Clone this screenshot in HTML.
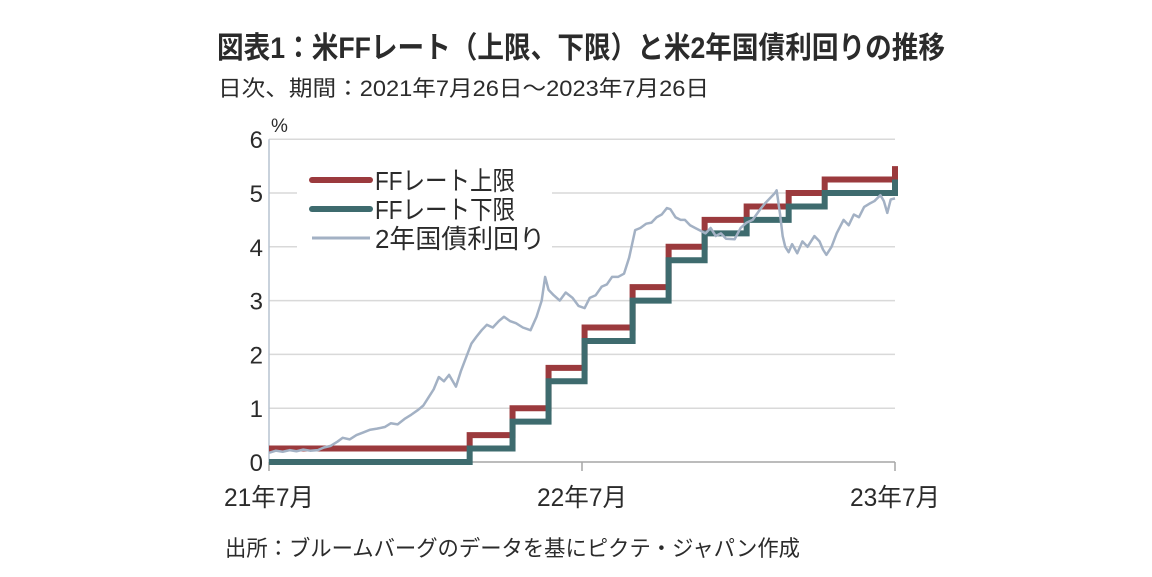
<!DOCTYPE html>
<html><head><meta charset="utf-8"><style>
html,body{margin:0;padding:0;background:#fff;width:1152px;height:577px;overflow:hidden}
svg{display:block}
text{font-family:"Liberation Sans","Noto Sans CJK JP",sans-serif;fill:#2b2b2b}
</style></head><body>
<svg id="chart" width="1152" height="577">
<text x="217" y="58" font-size="30" font-weight="bold" textLength="728" lengthAdjust="spacingAndGlyphs">図表1：米FFレート（上限、下限）と米2年国債利回りの推移</text>
<text x="218" y="96" font-size="22" textLength="491" lengthAdjust="spacingAndGlyphs">日次、期間：2021年7月26日～2023年7月26日</text>
<text x="271" y="132" font-size="19">%</text>
<text x="225" y="556" font-size="22" textLength="575" lengthAdjust="spacingAndGlyphs">出所：ブルームバーグのデータを基にピクテ・ジャパン作成</text>
<g id="grid"></g>
<g id="axes"></g>
<rect x="297" y="165" width="255" height="86" fill="#fff"/>
<g id="series"></g>
<g id="legend">
<line x1="312" y1="180" x2="370" y2="180" stroke="#9b3a3d" stroke-width="6" stroke-linecap="round"/>
<text x="375" y="190" font-size="26" textLength="140" lengthAdjust="spacingAndGlyphs">FFレート上限</text>
<line x1="312" y1="209" x2="370" y2="209" stroke="#3e6b6e" stroke-width="6" stroke-linecap="round"/>
<text x="375" y="219" font-size="26" textLength="140" lengthAdjust="spacingAndGlyphs">FFレート下限</text>
<line x1="312" y1="238" x2="370" y2="238" stroke="#a3b1c4" stroke-width="3"/>
<text x="375" y="248" font-size="26" textLength="170" lengthAdjust="spacingAndGlyphs">2年国債利回り</text>
</g>
</svg>
<script>
const yTicks=[0,1,2,3,4,5,6];
const xTickDays=[0,365,730];
const xTickLabels=["21年7月","22年7月","23年7月"];
const stepDays=[0,234,284,326,368,424,466,508,557,606,648,730];
const upperRates=[0.25,0.5,1.0,1.75,2.5,3.25,4.0,4.5,4.75,5.0,5.25,5.5];
const lowerRates=[0,0.25,0.75,1.5,2.25,3.0,3.75,4.25,4.5,4.75,5.0,5.25];
const yieldDays=[0,8,16,24,32,40,48,57,64,72,80,86,94,102,110,118,126,135,142,150,158,166,174,180,186,192,198,204,210,218,224,230,236,242,248,254,261,268,274,281,288,296,305,312,318,322,326,332,339,346,354,361,368,374,381,388,394,400,407,414,420,427,433,440,446,452,458,464,468,474,480,485,491,497,503,509,515,521,527,533,543,550,557,564,572,578,584,590,592,596,599,602,606,610,616,622,628,636,642,646,650,656,662,670,676,682,688,694,700,706,713,717,721,725,730];
const yieldValues=[0.17,0.21,0.19,0.22,0.2,0.23,0.21,0.22,0.27,0.3,0.38,0.45,0.42,0.5,0.55,0.6,0.62,0.65,0.72,0.7,0.8,0.88,0.97,1.05,1.2,1.35,1.58,1.5,1.62,1.4,1.7,1.95,2.2,2.33,2.45,2.55,2.5,2.62,2.7,2.62,2.58,2.5,2.45,2.7,3.0,3.44,3.2,3.1,3.0,3.15,3.05,2.9,2.86,3.05,3.1,3.26,3.3,3.44,3.44,3.5,3.8,4.31,4.35,4.43,4.45,4.55,4.6,4.72,4.7,4.55,4.5,4.5,4.4,4.35,4.3,4.25,4.35,4.2,4.25,4.15,4.14,4.35,4.45,4.5,4.68,4.8,4.9,5.0,5.05,4.6,4.2,4.0,3.9,4.05,3.88,4.1,4.0,4.2,4.1,3.95,3.85,4.0,4.25,4.5,4.4,4.6,4.55,4.74,4.8,4.85,4.96,4.85,4.63,4.88,4.9];
const x=d=>269+d*(626/730);
const y=v=>462-v*53.8;
const NS="http://www.w3.org/2000/svg";
function mk(tag,parent,attrs){const e=document.createElementNS(NS,tag);for(const k in attrs)e.setAttribute(k,attrs[k]);document.getElementById(parent).appendChild(e);return e;}
yTicks.forEach(v=>{
  if(v>0){const g=mk('line','grid',{x1:269,x2:895,y1:y(v),y2:y(v),stroke:'#d9d9d9','stroke-width':1.5});
  
  }
  const t=mk('text','axes',{x:263,y:y(v)+9,'font-size':24,'text-anchor':'end'});t.textContent=v;
  
  
});
const ya=mk('line','axes',{x1:269,x2:269,y1:y(6),y2:y(0),stroke:'#b7c3d0','stroke-width':1.5});


const xa=mk('line','axes',{x1:269,x2:895,y1:y(0),y2:y(0),stroke:'#a6a6a6','stroke-width':1.5});


xTickDays.forEach((d,i)=>{
  const tk=mk('line','axes',{x1:x(d),x2:x(d),y1:462,y2:471,stroke:'#a6a6a6','stroke-width':1.5});
  
  
  const t=mk('text','axes',{x:x(d),y:506,'font-size':25,'text-anchor':'middle',textLength:90,lengthAdjust:'spacingAndGlyphs'});t.textContent=xTickLabels[i];
  
  
});
function stepPath(rates){let p='M'+x(stepDays[0])+','+y(rates[0]);
  for(let i=1;i<stepDays.length;i++){p+=' H'+x(stepDays[i])+' V'+y(rates[i]);}return p;}
const up=mk('path','series',{d:stepPath(upperRates),fill:'none',stroke:'#9b3a3d','stroke-width':6});


const lo=mk('path','series',{d:stepPath(lowerRates),fill:'none',stroke:'#3e6b6e','stroke-width':6});


const yp=mk('path','series',{d:yieldDays.map((d,i)=>(i?'L':'M')+x(d)+','+y(yieldValues[i])).join(' '),fill:'none',stroke:'#a3b1c4','stroke-width':2.5,'stroke-linejoin':'round'});


</script>
</body></html>
